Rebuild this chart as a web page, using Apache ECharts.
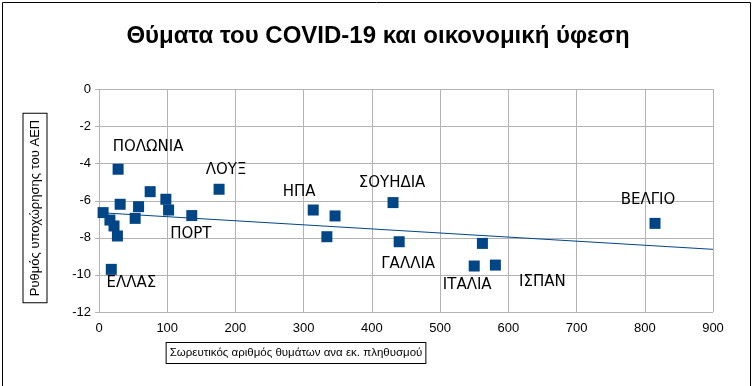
<!DOCTYPE html>
<html>
<head>
<meta charset="utf-8">
<script src="https://cdn.jsdelivr.net/npm/echarts@6/dist/echarts.min.js"></script>
<style>
html,body{margin:0;padding:0;background:#fff;}
#chart{width:756px;height:386px;}
</style>
</head>
<body>
<div id="chart"></div>
<script>
// Data
var xValues = [6, 16, 22, 27, 18, 28, 31, 53, 58, 75, 98, 102, 136, 176, 314, 334, 346, 431, 440, 550, 562, 581, 815];
var yValues = [-6.64, -7.04, -7.36, -7.9, -9.7, -4.3, -6.19, -6.95, -6.32, -5.51, -5.92, -6.5, -6.8, -5.38, -6.5, -7.94, -6.82, -6.1, -8.21, -9.52, -8.3, -9.47, -7.22];
var pointNames = ['', '', '', '', 'ΕΛΛΑΣ', 'ΠΟΛΩΝΙΑ', '', '', '', '', '', '', 'ΠΟΡΤ', 'ΛΟΥΞ', 'ΗΠΑ', '', '', 'ΣΟΥΗΔΙΑ', 'ΓΑΛΛΙΑ', 'ΙΤΑΛΙΑ', '', 'ΙΣΠΑΝ', 'ΒΕΛΓΙΟ'];
var trendX = [0, 900];
var trendY = [-6.64, -8.62];
var yTicks = ['0', '-2', '-4', '-6', '-8', '-10', '-12'];
var xTicks = ['0', '100', '200', '300', '400', '500', '600', '700', '800', '900'];
var titleText = 'Θύματα του COVID-19 και οικονομική ύφεση';
var xName = 'Σωρευτικός αριθμός θυμάτων ανα εκ. πληθυσμού';
var yName = 'Ρυθμός υποχώρησης του ΑΕΠ';

// label offsets (style, not data)
var labelOffsets = {
  'ΕΛΛΑΣ': [20, 14], 'ΠΟΛΩΝΙΑ': [30, -22], 'ΠΟΡΤ': [-1, 19], 'ΛΟΥΞ': [7, -19],
  'ΗΠΑ': [-14, -18], 'ΣΟΥΗΔΙΑ': [-1, -19], 'ΓΑΛΛΙΑ': [9, 22], 'ΙΤΑΛΙΑ': [-7, 19],
  'ΙΣΠΑΝ': [47, 17], 'ΒΕΛΓΙΟ': [-7, -23]
};

var scatterData = xValues.map(function (x, i) {
  var item = { value: [x, yValues[i]], name: pointNames[i] };
  if (pointNames[i]) {
    item.label = {
      show: true, position: 'inside', offset: labelOffsets[pointNames[i]],
      formatter: pointNames[i], color: '#000', fontSize: 15,
      fontFamily: 'DejaVu Sans'
    };
  }
  return item;
});
var trendData = trendX.map(function (x, i) { return [x, trendY[i]]; });

var chart = echarts.init(document.getElementById('chart'), null, { renderer: 'canvas' });
var gridColor = '#b3b3b3';
chart.setOption({
  animation: false,
  backgroundColor: '#fff',
  title: {
    text: titleText, left: 'center', top: 19,
    textStyle: { fontFamily: 'Liberation Sans', fontWeight: 'bold', fontSize: 24, color: '#000' }
  },
  grid: { left: 99, right: 43, top: 89.5, bottom: 74 },
  xAxis: {
    type: 'value', min: 0, max: 900, interval: 100,
    axisLine: { show: true, lineStyle: { color: gridColor } },
    axisTick: { show: true, length: 4, lineStyle: { color: gridColor } },
    splitLine: { show: true, lineStyle: { color: gridColor } },
    axisLabel: {
      margin: 10, color: '#000', fontSize: 13, fontFamily: 'Liberation Sans',
      formatter: function (v) { return xTicks[Math.round(v / 100)]; }
    }
  },
  yAxis: {
    type: 'value', min: -12, max: 0, interval: 2,
    axisLine: { show: true, lineStyle: { color: gridColor } },
    axisTick: { show: true, length: 4, lineStyle: { color: gridColor } },
    splitLine: { show: true, lineStyle: { color: gridColor } },
    axisLabel: {
      margin: 8, color: '#000', fontSize: 13, fontFamily: 'Liberation Sans',
      formatter: function (v) { return yTicks[Math.round(-v / 2)]; }
    }
  },
  series: [
    {
      type: 'line', data: trendData, showSymbol: false, symbol: 'none',
      lineStyle: { color: '#004586', width: 1 }, z: 2, silent: true
    },
    {
      type: 'scatter', data: scatterData, symbol: 'rect', symbolSize: 11,
      itemStyle: { color: '#004586', opacity: 1 }, z: 3
    }
  ],
  graphic: [
    {
      type: 'rect', left: 0, top: 0, z: -1,
      shape: { x: 0.5, y: 0.5, width: 748, height: 384 },
      style: { fill: 'none', stroke: '#000', lineWidth: 1 }
    },
    {
      type: 'text', x: 296, y: 353,
      style: {
        text: xName, fontSize: 11.5, fontFamily: 'Liberation Sans', fill: '#000',
        align: 'center', verticalAlign: 'middle',
        borderColor: '#000', borderWidth: 1, padding: [4, 3, 4, 3], backgroundColor: '#fff'
      }
    },
    {
      type: 'text', x: 35, y: 208, rotation: Math.PI / 2,
      style: {
        text: yName, fontSize: 13, fontFamily: 'Liberation Sans', fill: '#000',
        align: 'center', verticalAlign: 'middle',
        borderColor: '#000', borderWidth: 1, padding: [5, 6, 5, 6], backgroundColor: '#fff'
      }
    }
  ]
});
</script>
</body>
</html>
